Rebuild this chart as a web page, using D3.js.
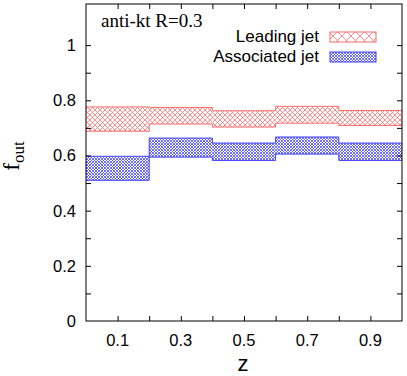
<!DOCTYPE html>
<html>
<head>
<meta charset="utf-8">
<script src="https://cdn.jsdelivr.net/npm/d3@7"></script>
<style>
body { margin: 0; background: #fff; }
text { font-family: "Liberation Sans", Arial, sans-serif; }
</style>
</head>
<body>
<svg id="chart"></svg>
<script>
// bin edges in z and the band limits for each jet
var binEdges = [0, 0.2, 0.4, 0.6, 0.8, 1.0];
var leadLow  = [0.688, 0.714, 0.703, 0.717, 0.709];
var leadHigh = [0.776, 0.774, 0.762, 0.778, 0.763];
var assocLow  = [0.510, 0.594, 0.582, 0.605, 0.582];
var assocHigh = [0.597, 0.663, 0.645, 0.667, 0.645];
var xTickLabels = [0.1, 0.3, 0.5, 0.7, 0.9];
var yTickLabels = [0, 0.2, 0.4, 0.6, 0.8, 1];

var svgWidth = 407;
var svgHeight = 376;
var plotLeft = 86, plotRight = 402, plotTop = 4, plotBottom = 321;

var svg = d3.select("#chart")
    .attr("width", svgWidth)
    .attr("height", svgHeight);

var x = d3.scaleLinear().domain([0, 1]).range([plotLeft, plotRight]);
var y = d3.scaleLinear().domain([0, 1.149]).range([plotBottom, plotTop]);

// hatch patterns
var defs = svg.append("defs");
function hatch(id, size, color, width) {
    var p = defs.append("pattern")
        .attr("id", id)
        .attr("patternUnits", "userSpaceOnUse")
        .attr("width", size).attr("height", size);
    p.append("path")
        .attr("d", "M0,0L" + size + "," + size + "M" + size + ",0L0," + size)
        .attr("stroke", color).attr("stroke-width", width).attr("fill", "none");
}
hatch("redHatch", 5, "#ff7070", 0.8);
hatch("blueHatch", 3, "#4040ff", 0.75);
hatch("redHatchLeg", 9, "#ff7070", 0.8);
hatch("blueHatchLeg", 3, "#4040ff", 0.75);

var bins = d3.range(binEdges.length - 1);

function stepLine(vals) {
    var pts = [];
    bins.forEach(function(i) {
        pts.push([x(binEdges[i]), y(vals[i])]);
        pts.push([x(binEdges[i + 1]), y(vals[i])]);
    });
    return d3.line()(pts);
}

function band(lo, hi, fillId, color) {
    var g = svg.append("g");
    g.selectAll("rect")
        .data(bins)
        .enter()
        .append("rect")
        .attr("x", function(i) { return x(binEdges[i]); })
        .attr("width", function(i) { return x(binEdges[i + 1]) - x(binEdges[i]); })
        .attr("y", function(i) { return y(hi[i]); })
        .attr("height", function(i) { return y(lo[i]) - y(hi[i]); })
        .attr("fill", "url(#" + fillId + ")");
    [lo, hi].forEach(function(vals) {
        g.append("path")
            .attr("d", stepLine(vals))
            .attr("fill", "none")
            .attr("stroke", color)
            .attr("stroke-width", 1);
    });
}

band(leadLow, leadHigh, "redHatch", "#ff6a6a");
band(assocLow, assocHigh, "blueHatch", "#4040ff");

// frame with inward ticks on all sides
var tickLen = 5;
var xMinor = d3.range(0.1, 1.0, 0.1);
var yMinor = d3.range(0.1, 1.1, 0.1);

svg.append("g")
    .attr("transform", "translate(0," + plotBottom + ")")
    .call(d3.axisBottom(x).tickValues(xMinor).tickSize(-tickLen).tickFormat(""))
    .call(function(g) { g.select(".domain").remove(); });
svg.append("g")
    .attr("transform", "translate(0," + plotTop + ")")
    .call(d3.axisTop(x).tickValues(xMinor).tickSize(-tickLen).tickFormat(""))
    .call(function(g) { g.select(".domain").remove(); });
svg.append("g")
    .attr("transform", "translate(" + plotLeft + ",0)")
    .call(d3.axisLeft(y).tickValues(yMinor).tickSize(-tickLen).tickFormat(""))
    .call(function(g) { g.select(".domain").remove(); });
svg.append("g")
    .attr("transform", "translate(" + plotRight + ",0)")
    .call(d3.axisRight(y).tickValues(yMinor).tickSize(-tickLen).tickFormat(""))
    .call(function(g) { g.select(".domain").remove(); });

svg.append("rect")
    .attr("x", plotLeft).attr("y", plotTop)
    .attr("width", plotRight - plotLeft).attr("height", plotBottom - plotTop)
    .attr("fill", "none").attr("stroke", "#000").attr("stroke-width", 1);

// tick labels
svg.append("g").selectAll("text")
    .data(xTickLabels)
    .enter()
    .append("text")
    .attr("x", function(d) { return x(d); })
    .attr("y", plotBottom + 25)
    .attr("text-anchor", "middle")
    .attr("font-size", 16.5)
    .text(function(d) { return d.toFixed(1); });

svg.append("g").selectAll("text")
    .data(yTickLabels)
    .enter()
    .append("text")
    .attr("x", plotLeft - 10)
    .attr("y", function(d) { return y(d) + 6; })
    .attr("text-anchor", "end")
    .attr("font-size", 16.5)
    .text(function(d) { return d === 0 || d === 1 ? d : d.toFixed(1); });

// axis titles
svg.append("text")
    .attr("x", 243).attr("y", 371)
    .attr("text-anchor", "middle")
    .attr("font-size", 22)
    .text("z");

var yt = svg.append("text")
    .attr("transform", "translate(19,156) rotate(-90)")
    .attr("text-anchor", "middle")
    .style("font-family", "'Liberation Serif', 'Times New Roman', serif")
    .attr("font-size", 23);
yt.append("tspan").text("f");
yt.append("tspan").attr("font-size", 17).attr("dy", 5).text("out");

svg.append("text")
    .attr("x", 101).attr("y", 27)
    .style("font-family", "'Liberation Serif', 'Times New Roman', serif")
    .attr("font-size", 19)
    .text("anti-kt R=0.3");

// legend
var legend = [
    { name: "Leading jet", fill: "redHatchLeg", color: "#ff6a6a" },
    { name: "Associated jet", fill: "blueHatchLeg", color: "#4040ff" }
];
var lg = svg.append("g").selectAll("g")
    .data(legend)
    .enter()
    .append("g")
    .attr("transform", function(d, i) { return "translate(0," + (i * 20) + ")"; });
lg.append("text")
    .attr("x", 319).attr("y", 42)
    .attr("text-anchor", "end")
    .attr("font-size", 17)
    .text(function(d) { return d.name; });
lg.append("rect")
    .attr("x", 330).attr("y", 32)
    .attr("width", 46).attr("height", 10)
    .attr("fill", function(d) { return "url(#" + d.fill + ")"; })
    .attr("stroke", function(d) { return d.color; })
    .attr("stroke-width", 1);
</script>
</body>
</html>
